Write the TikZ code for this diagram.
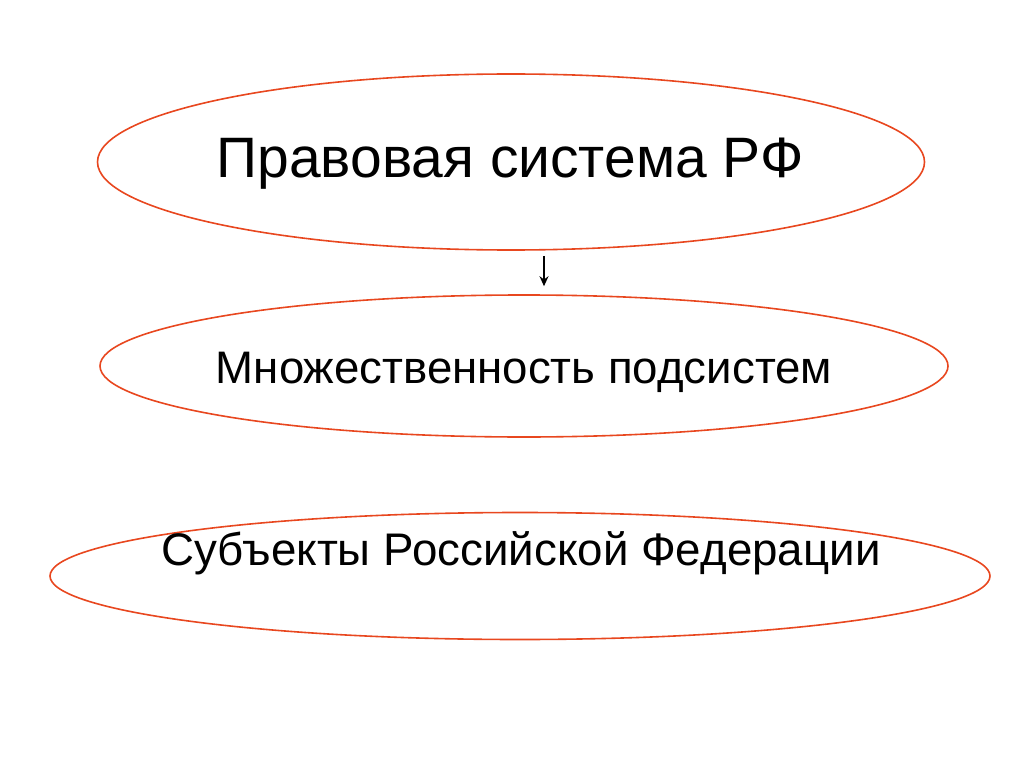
\documentclass[tikz,border=0pt]{standalone}
\usepackage{fontspec}
\setmainfont{Liberation Sans}
\usetikzlibrary{positioning,shapes.geometric,arrows.meta}
\definecolor{OvalRed}{HTML}{E8471F}

\begin{document}
\begin{tikzpicture}[x=1pt,y=-1pt,
  oval/.style={ellipse, draw=OvalRed, line width=1.6pt, inner sep=0pt},
  label/.style={inner sep=0pt, anchor=base, text=black}]
\useasboundingbox (0,0) rectangle (1024,767);
\node[oval, minimum width=827, minimum height=176] (sys) at (511,162) {};
\node[oval, minimum width=848, minimum height=142] (sub) at (524,366) {};
\node[oval, minimum width=940, minimum height=127] (fed) at (520,576) {};
\node[label, font=\fontsize{57}{66}\selectfont] (tsys) at (510,178) {Правовая система РФ};
\node[label, font=\fontsize{45.6}{54}\selectfont] (tsub) at (524,383) {Множественность подсистем};
\node[label, font=\fontsize{45.7}{54}\selectfont] (tfed) at (521,565) {Субъекты Российской Федерации};
\coordinate (arr) at (544,0);
\draw[-{Stealth[length=10pt,width=9pt]}, line width=1.5pt, shorten <=5pt, shorten >=8pt] (sys.south -| arr) -- (sub.north -| arr);
\end{tikzpicture}
\end{document}
